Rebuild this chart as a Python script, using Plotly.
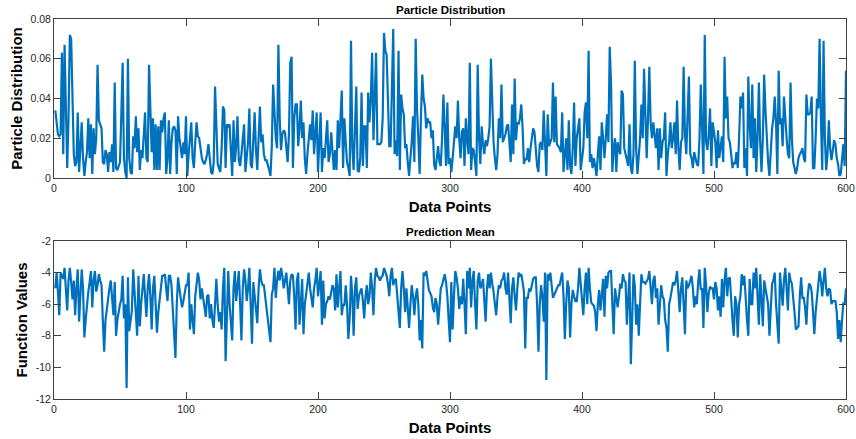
import plotly.graph_objects as go
from plotly.subplots import make_subplots

# Particle distribution values, in thousandths (x = 1..600)
particle_milli = [
    34, 28, 22, 21, 22, 63, 12, 67, 40, 5,
    30, 72, 70, 40, 12, 6, 8, 33, 3, 15,
    28, 10, 1, 8, 13, 30, 10, 27, 2, 25,
    12, 20, 57, 29, 27, 25, 8, 7, 14, 12,
    3, 13, 8, 17, 3, 48, 5, 4, 6, 8,
    32, 58, 10, 3, 0, 60, 10, 3, 2, 21,
    15, 31, 13, 25, 4, 14, 10, 20, 33, 10,
    8, 57, 28, 13, 30, 4, 27, 4, 26, 4,
    29, 23, 30, 33, 2, 10, 29, 2, 18, 25,
    26, 24, 2, 31, 20, 14, 10, 18, 12, 31,
    1, 12, 20, 28, 10, 5, 18, 28, 21, 20,
    15, 10, 8, 7, 9, 12, 17, 8, 3, 2,
    8, 46, 20, 7, 5, 3, 15, 36, 34, 5,
    27, 26, 27, 10, 1, 29, 8, 16, 31, 9,
    6, 12, 20, 27, 3, 9, 18, 35, 7, 5,
    18, 33, 14, 4, 20, 36, 18, 22, 12, 9,
    9, 7, 4, 1, 16, 47, 30, 20, 15, 67,
    30, 14, 22, 24, 23, 15, 8, 22, 58, 61,
    5, 30, 37, 37, 16, 25, 39, 20, 28, 10,
    2, 12, 18, 27, 19, 34, 12, 25, 33, 3,
    18, 33, 3, 15, 10, 20, 29, 8, 12, 23,
    12, 4, 14, 4, 29, 15, 29, 44, 5, 30,
    18, 8, 5, 1, 69, 15, 4, 30, 46, 4,
    3, 10, 43, 6, 26, 26, 5, 43, 28, 40,
    63, 19, 40, 63, 17, 17, 17, 18, 30, 73,
    64, 62, 30, 16, 16, 50, 75, 12, 19, 11,
    64, 4, 42, 35, 32, 15, 17, 8, 1, 10,
    18, 31, 8, 70, 35, 20, 2, 31, 52, 40,
    36, 25, 30, 28, 28, 20, 24, 7, 4, 10,
    16, 8, 6, 20, 42, 25, 6, 38, 7, 10,
    3, 10, 18, 26, 20, 39, 20, 10, 23, 25,
    6, 30, 19, 12, 58, 4, 15, 14, 8, 1,
    57, 20, 7, 26, 17, 12, 19, 16, 20, 26,
    60, 33, 18, 10, 4, 12, 30, 20, 47, 18,
    20, 22, 26, 27, 18, 8, 37, 12, 50, 19,
    28, 27, 30, 37, 25, 7, 10, 9, 15, 8,
    15, 20, 25, 23, 12, 6, 3, 17, 18, 14,
    34, 12, 1, 32, 16, 18, 20, 48, 18, 41,
    17, 16, 15, 13, 33, 3, 12, 20, 4, 29,
    6, 2, 15, 38, 6, 20, 25, 30, 4, 10,
    15, 33, 38, 20, 64, 8, 12, 5, 10, 6,
    1, 12, 21, 4, 28, 20, 10, 20, 32, 18,
    66, 48, 3, 15, 20, 3, 18, 14, 12, 44,
    42, 15, 12, 9, 6, 27, 5, 2, 12, 59,
    15, 2, 12, 20, 37, 20, 55, 25, 10, 30,
    56, 28, 20, 28, 22, 15, 25, 4, 25, 10,
    18, 20, 33, 1, 12, 18, 28, 15, 20, 28,
    12, 39, 15, 4, 18, 20, 56, 22, 12, 30,
    51, 12, 10, 5, 13, 10, 7, 6, 20, 47,
    17, 2, 72, 18, 14, 22, 35, 6, 28, 24,
    18, 5, 24, 10, 15, 21, 8, 61, 30, 41,
    20, 18, 12, 5, 8, 7, 13, 5, 20, 41,
    35, 43, 5, 15, 1, 51, 27, 15, 47, 10,
    30, 3, 20, 48, 18, 3, 20, 52, 34, 20,
    8, 1, 17, 25, 30, 41, 28, 2, 54, 27,
    30, 16, 41, 28, 20, 12, 10, 48, 20, 8,
    5, 2, 5, 10, 12, 13, 15, 10, 8, 42,
    32, 32, 33, 41, 5, 5, 20, 40, 35, 70,
    30, 4, 69, 20, 4, 12, 29, 15, 9, 15,
    19, 17, 10, 7, 1, 2, 8, 17, 6, 54,
]

# Prediction mean values, in tenths (x = 1..600)
mean_tenths = [
    -50, -40, -52, -67, -40, -42, -44, -37, -50, -64,
    -45, -37, -46, -57, -45, -67, -50, -38, -71, -55,
    -38, -50, -81, -70, -60, -52, -46, -39, -62, -45,
    -39, -52, -48, -41, -45, -48, -70, -90, -70, -62,
    -58, -50, -45, -55, -67, -46, -80, -70, -63, -60,
    -57, -42, -69, -60, -113, -43, -77, -70, -64, -38,
    -55, -70, -80, -42, -74, -60, -50, -41, -55, -68,
    -50, -41, -55, -76, -50, -42, -60, -78, -65, -56,
    -50, -42, -42, -41, -50, -58, -42, -42, -48, -65,
    -75, -94, -60, -43, -50, -55, -62, -58, -53, -48,
    -48, -40, -76, -60, -70, -79, -55, -45, -40, -45,
    -57, -50, -56, -60, -68, -55, -54, -69, -60, -70,
    -75, -60, -44, -60, -71, -65, -76, -50, -37, -96,
    -60, -39, -60, -70, -83, -50, -39, -58, -50, -39,
    -60, -83, -50, -38, -45, -58, -50, -37, -60, -85,
    -46, -55, -60, -72, -50, -38, -45, -48, -48, -55,
    -65, -72, -80, -84, -54, -50, -37, -56, -45, -39,
    -45, -37, -42, -50, -45, -40, -50, -60, -45, -41,
    -42, -55, -76, -45, -40, -73, -60, -44, -79, -60,
    -54, -48, -40, -50, -55, -62, -50, -45, -37, -55,
    -48, -39, -73, -45, -69, -60, -58, -55, -57, -52,
    -48, -50, -64, -41, -62, -50, -39, -67, -60, -61,
    -48, -60, -82, -69, -42, -55, -80, -50, -43, -63,
    -55, -52, -50, -58, -69, -55, -48, -60, -55, -40,
    -50, -67, -45, -37, -42, -43, -45, -43, -42, -37,
    -40, -42, -47, -55, -42, -37, -48, -45, -44, -55,
    -65, -75, -50, -39, -50, -65, -50, -60, -75, -60,
    -48, -55, -67, -55, -50, -60, -83, -70, -88, -40,
    -42, -39, -45, -51, -53, -55, -62, -65, -56, -60,
    -73, -58, -50, -48, -45, -41, -46, -55, -70, -84,
    -46, -76, -55, -39, -43, -50, -63, -55, -60, -44,
    -60, -79, -39, -50, -37, -62, -45, -39, -60, -76,
    -45, -40, -50, -48, -44, -60, -71, -50, -41, -50,
    -40, -47, -52, -60, -67, -55, -48, -50, -45, -44,
    -40, -50, -54, -40, -60, -72, -50, -43, -55, -64,
    -50, -40, -42, -41, -46, -52, -88, -56, -56, -50,
    -52, -48, -44, -43, -43, -60, -90, -60, -48, -55,
    -71, -40, -108, -41, -45, -40, -48, -56, -54, -52,
    -50, -48, -48, -44, -40, -55, -82, -60, -45, -50,
    -81, -60, -51, -55, -58, -58, -50, -37, -48, -60,
    -67, -50, -40, -60, -37, -50, -59, -60, -61, -65,
    -77, -60, -51, -64, -55, -44, -68, -42, -50, -40,
    -39, -39, -60, -79, -50, -55, -62, -55, -47, -50,
    -41, -45, -46, -73, -50, -40, -98, -60, -41, -48,
    -73, -60, -80, -60, -41, -46, -46, -47, -45, -44,
    -39, -50, -60, -45, -42, -56, -50, -73, -60, -48,
    -55, -57, -70, -75, -90, -60, -56, -50, -46, -48,
    -45, -39, -55, -65, -50, -43, -60, -79, -45, -50,
    -48, -45, -42, -50, -62, -55, -60, -46, -38, -51,
    -50, -75, -37, -48, -65, -53, -49, -50, -50, -57,
    -46, -50, -64, -55, -68, -44, -62, -45, -37, -55,
    -44, -43, -60, -70, -80, -55, -60, -81, -60, -55,
    -41, -48, -42, -60, -70, -80, -44, -60, -60, -40,
    -50, -37, -60, -73, -41, -55, -74, -45, -50, -56,
    -60, -80, -65, -47, -45, -40, -60, -70, -85, -40,
    -50, -61, -45, -37, -50, -64, -40, -45, -47, -59,
    -65, -76, -75, -74, -55, -43, -56, -56, -62, -73,
    -55, -47, -48, -52, -65, -79, -65, -57, -50, -39,
    -45, -55, -45, -37, -50, -55, -50, -51, -60, -58,
    -58, -58, -65, -82, -70, -84, -70, -59, -60, -50,
]

particle = [v / 1000 for v in particle_milli]
pred_mean = [v / 10 for v in mean_tenths]
x_top = list(range(1, len(particle) + 1))
x_bot = list(range(1, len(pred_mean) + 1))

x_ticks = [0, 100, 200, 300, 400, 500, 600]
top_ticks = [0, 0.02, 0.04, 0.06, 0.08]
top_tick_text = ["0", "0.02", "0.04", "0.06", "0.08"]
bot_ticks = [-12, -10, -8, -6, -4, -2]
bot_tick_text = ["-12", "-10", "-8", "-6", "-4", "-2"]

LINE = "#0072BD"
AX = "#262626"
FONT = "Liberation Sans, Arial, Helvetica, sans-serif"

fig = make_subplots(rows=2, cols=1, vertical_spacing=0.0)
fig.add_trace(go.Scatter(x=x_top, y=particle, mode="lines",
                         line=dict(color=LINE, width=2.2), showlegend=False), row=1, col=1)
fig.add_trace(go.Scatter(x=x_bot, y=pred_mean, mode="lines",
                         line=dict(color=LINE, width=2.2), showlegend=False), row=2, col=1)

axis_common = dict(showgrid=False, zeroline=False, showline=True, linecolor="#404040",
                   linewidth=1, mirror="ticks", ticks="inside", ticklen=7,
                   tickcolor="#404040", tickwidth=1, automargin=False,
                   tickfont=dict(family=FONT, size=10.5, color=AX))
title_font = dict(family=FONT, size=15, color="#000000")

fig.update_xaxes(**axis_common, range=[0, 600], tickvals=x_ticks,
                 title=dict(text="<b>Data Points</b>", font=title_font, standoff=8))
fig.update_yaxes(**axis_common)
fig.update_yaxes(range=[0, 0.08], tickvals=top_ticks, ticktext=top_tick_text,
                 domain=[0.5816, 1.0],
                 title=dict(text="<b>Particle Distribution</b>", font=title_font, standoff=4),
                 row=1, col=1)
fig.update_yaxes(range=[-12, -2], tickvals=bot_ticks, ticktext=bot_tick_text,
                 domain=[0.0, 0.4158],
                 title=dict(text="<b>Function Values</b>", font=title_font, standoff=4),
                 row=2, col=1)

fig.update_layout(
    width=856, height=439,
    margin=dict(l=54, r=10, t=19, b=40),
    paper_bgcolor="white", plot_bgcolor="white",
    font=dict(family=FONT, color=AX),
    annotations=[
        dict(text="<b>Particle Distribution</b>", x=0.5, y=1.0, xref="paper", yref="paper",
             xanchor="center", yanchor="bottom", yshift=1, showarrow=False,
             font=dict(family=FONT, size=11.5, color="#000000")),
        dict(text="<b>Prediction Mean</b>", x=0.5, y=0.4158, xref="paper", yref="paper",
             xanchor="center", yanchor="bottom", yshift=1, showarrow=False,
             font=dict(family=FONT, size=11.5, color="#000000")),
    ],
)

fig.write_html("out.html")
